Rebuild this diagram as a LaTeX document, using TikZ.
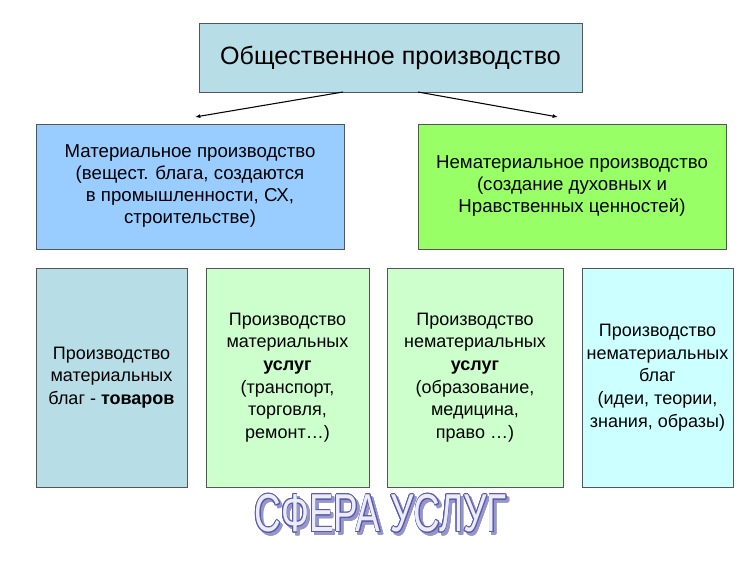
\documentclass[tikz,border=0pt]{standalone}
\usepackage{fontspec}
\setmainfont{Liberation Sans}
\usepackage{contour}
\contourlength{0.8pt}
\usetikzlibrary{arrows.meta,positioning}
\definecolor{boxGrey}{RGB}{85,85,85}
\definecolor{societyTeal}{RGB}{183,221,230}
\definecolor{matBlue}{RGB}{153,204,255}
\definecolor{nonmatGreen}{RGB}{153,255,102}
\definecolor{serviceGreen}{RGB}{204,255,204}
\definecolor{ideaCyan}{RGB}{204,255,255}
\definecolor{outlinePurple}{RGB}{90,90,170}
\definecolor{shadowPurple}{RGB}{150,150,200}
\definecolor{lavenderFill}{RGB}{236,236,252}
\tikzset{%
  >={Latex[width=3pt,length=4pt]},
  % Specifications for style of nodes:
     base/.style = {rectangle, draw=boxGrey, line width=0.75pt,
                    inner sep=0pt, outer sep=0pt, align=center, text=black,
                    font=\fontsize{14}{16.5}\selectfont},
     society/.style = {base, minimum width=287.25pt, minimum height=51.75pt,
                    fill=societyTeal, font=\fontsize{18.8}{22}\selectfont},
     sector/.style = {base, minimum width=231pt, minimum height=93.75pt},
     branch/.style = {base, minimum height=164.25pt,
                    font=\fontsize{13.5}{17}\selectfont},
     wordArt/.style = {xscale=0.69, transform shape, inner sep=0pt,
                    font=\fontsize{40}{44}\selectfont},
}
\begin{document}
\begin{tikzpicture}
  \useasboundingbox (0,0) rectangle (562.5pt,-420.75pt);
  % Specification of nodes (position, etc.)
  \node (society)     [society, anchor=north west] at (149.25pt,-17.25pt)
                      {Общественное производство};
  \node (matProd)     [sector, fill=matBlue, anchor=north west] at (27pt,-93pt)
                      {Материальное производство \\ (вещест. блага, создаются \\
                       в промышленности, СХ, \\ строительстве)};
  \node (nonmatProd)  [sector, fill=nonmatGreen, right=55.5pt of matProd]
                      {Нематериальное производство \\ (создание духовных и \\
                       Нравственных ценностей)};

  \node (goods)       [branch, minimum width=113.25pt, fill=societyTeal,
                       below right=14.25pt and 0pt of matProd.south west]
                      {Производство \\ материальных \\ благ - \textbf{товаров}};
  \node (matServ)     [branch, minimum width=122.25pt, fill=serviceGreen,
                       right=14.25pt of goods]
                      {Производство \\ материальных \\ \textbf{услуг} \\
                       (транспорт, \\ торговля, \\ ремонт…)};
  \node (nonmatServ)  [branch, minimum width=132pt, fill=serviceGreen,
                       right=13.5pt of matServ]
                      {Производство \\ нематериальных \\ \textbf{услуг} \\
                       (образование, \\ медицина, \\ право …)};
  \node (nonmatGoods) [branch, minimum width=113.25pt, fill=ideaCyan,
                       right=14.25pt of nonmatServ]
                      {Производство \\ нематериальных \\ благ \\
                       (идеи, теории, \\ знания, образы)};

  % the title of the services, with its shadow behind it
  \node (sphereShadow) [wordArt] at (287.5pt,-387.5pt)
                      {\contour{shadowPurple}{\textcolor{shadowPurple}{СФЕРА УСЛУГ}}};
  \node (sphere)      [wordArt] at ([xshift=-2pt,yshift=2pt]sphereShadow.center)
                      {\contour{outlinePurple}{\textcolor{lavenderFill}{СФЕРА УСЛУГ}}};

  % Specification of lines between nodes specified above
  \coordinate (matTip)    at ([xshift=3.75pt,yshift=5.25pt]matProd.north);
  \coordinate (nonmatTip) at ([xshift=-10.5pt,yshift=5.25pt]nonmatProd.north);
  \draw[->, line width=0.8pt] ([xshift=-35.6pt]society.south) -- (matTip);
  \draw[->, line width=0.8pt] ([xshift=20.6pt]society.south) -- (nonmatTip);
\end{tikzpicture}
\end{document}
